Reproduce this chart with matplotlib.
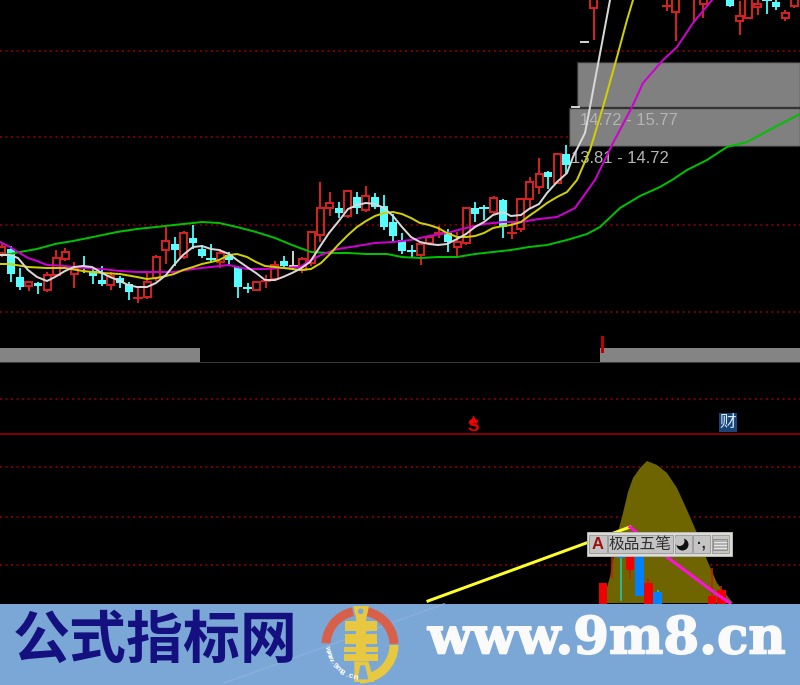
import matplotlib
matplotlib.use("Agg")
import matplotlib.pyplot as plt
import matplotlib.patheffects as pe
import numpy as np
from matplotlib.patches import Rectangle, Polygon, Wedge, Circle

# Candle indices and values (screen-scale price units)
c_idx = [-1,0,1,2,3,4,5,6,7,8,9,10,11,12,13,14,15,16,17,18,19,20,21,22,23,24,25,26,27,28,29,30,31,
         32,33,34,35,36,37,38,39,40,41,42,43,44,45,46,47,48,49,50,51,52,53,54,55,56,57,58,59,60,61,
         62,63,64,72,73,75,76,79,80,81,82,83,84,85,86]
c_top = [247,249.3,277.3,281.7,282.7,274.7,258,252,268.3,266.7,270.7,280,276,278.3,284,298,281.7,256.7,241.3,244,232.7,238.3,249.3,259,252.7,255,266.7,288,281.7,280.7,265.3,260.7,266,
         259.3,231.7,208.3,202.7,208.3,191.3,197.3,195.7,196.7,205.7,221.7,240,251.3,244,236.7,233,233.3,241.7,208.3,208,207.7,198.3,200,233.3,198.7,181.7,174,172,154.3,154,
         107,42,-2,5.5,-2,-2,-2,-2,16,-2,4,0,2,13,-2]
c_bot = [253,274,287.3,286,286,290,275.3,258.7,273.7,267.3,276,284,284.7,283.3,291.7,298.7,297,278.3,250,250,257.3,243.3,256,259.7,262.3,260,287.3,288.7,290,281.3,278.7,266,266.7,
         270,263,235,208.3,213.3,216,208.3,210,207.3,226.7,236,250.7,252.7,255,243.3,233.7,241.7,247.3,243.3,214,209,211.7,227.3,234,229.3,198.7,186.7,177,182.7,165,
         108,43,8,7,12,-1,4,6,21,18,7,1,7,18,6]
c_high = [245,247.3,269.3,281.7,282.7,273.3,250.7,249.3,263.3,257.3,268.3,267.3,273.3,276.7,282.7,288.3,272.7,256,228.3,238.3,231.7,226,246,245,250,252.7,266.7,284,281.7,276,262,257.3,251.7,
          258,231.7,182.7,192.7,202.7,190.7,192.7,187.3,194,195.7,215,234,246,244,236.7,226.7,230,233.3,208.3,202.7,206,197.3,200,223.3,198.7,178.3,159.3,172,154.3,146,
          107,42,-2,0,-2,-2,-2,-2,2,-2,-2,-2,-2,11,-2]
c_low = [256,280.7,289.3,290,293.3,291.3,276,260,287.3,271.7,282.7,285,289.3,286.7,299.3,301.7,297.7,280,263.3,265,258.3,248.3,257.3,261.7,266.7,265,296.7,292,290,287.3,280,267.3,268.3,
         272,265,240.7,215,217.3,216.7,212.7,210.7,208.3,229.3,240.7,252.7,256.7,264,244,237.3,250.7,255,244.3,220.7,219.3,212.7,236.7,238.3,231,207.3,192.7,188.3,183,171.7,
         108,43,39,10,40,20,17,6,34,18,14,13,9,20,7]
c_cyan = {0,1,3,8,9,10,12,13,18,20,21,22,24,25,26,30,36,38,40,41,42,43,44,48,51,52,54,59,61,79,83,84}
c_white = {31,62,63}

x_white = [0,10,18,28,37,47,55,65,74,83,92,102,110,120,128,137,147,156,166,174,183,193,202,211,219,229,237,247,256,265,275,283,292,300,310,321,329,338,348,357,366,375,384,393,402,411,420,429,438,447,457,466,475,484,493,503,511,521,529,539,547,557,567,573,585,590,595,602,610]
y_white = [255,255,258,270,277,281,277,271,267,266,267,273,277,281,285,287,287,283,275,265,255,247,246,249,250,254,260,267,273,280,280,277,273,269,262,245,233,222,209,205,203,204,208,216,227,237,242,244,245,244,239,234,227,222,215,212,216,215,209,204,193,182,173,157,133,107,80,43,0]
x_yellow = [0,10,28,47,65,83,102,120,137,147,156,166,174,183,193,202,211,219,229,237,247,256,265,275,292,300,311,321,329,338,348,357,366,375,384,393,402,411,420,429,438,447,457,466,475,484,493,503,511,521,529,539,547,557,567,577,590,603,617,627,633]
y_yellow = [264,264,267,268,268,271,273,274,277,279,278,276,274,270,267,264,262,260,255,254,257,262,266,267,269,270,269,263,255,245,235,227,221,216,213,212,214,218,223,225,228,233,237,237,236,233,228,226,225,222,216,209,203,197,192,180,150,107,57,20,0]
x_magenta = [0,10,18,28,37,47,65,83,102,120,137,156,174,193,211,229,237,247,265,283,300,311,321,329,338,357,375,393,411,429,447,466,484,503,521,539,557,575,595,613,632,643,663,677,693,712]
y_magenta = [242,247,252,258,261,265,266,268,269,271,272,272,272,269,267,265,267,269,269,268,267,260,255,252,249,246,243,242,240,236,233,228,224,222,222,219,217,208,180,143,107,83,60,47,23,0]
x_green = [0,10,20,37,55,73,93,117,137,156,174,193,202,219,237,256,275,292,300,311,329,348,366,387,402,420,438,457,475,493,511,529,547,567,587,600,620,640,660,672,687,707,727,747,773,800]
y_green = [255,254,252,249,244,241,237,232,229,227,225,223,222,223,227,232,238,245,248,252,253,253,254,254,257,258,257,257,254,252,250,247,245,240,234,227,208,196,187,180,170,160,147,142,128,114]

x_olive = [605,607,610,618,623,628,633,640,647,657,667,677,687,697,707,717,733]
y_olive = [603,587,577,532,513,492,478,468,461,465,473,488,510,533,560,583,603]

b_idx = [65,66,67,68,69,70,71,77,78]
b_top = [583,556,556,556,556,583,592,596,590]
b_bot = [604,556,558,570,596,604,604,604,604]
b_wick_hi = [583,548,556,548,550,578,590,568,586]
b_wick_lo = [604,578,601,579,596,604,604,604,604]
b_color = ["#f00000","#c81e00","#0080ff","#f00000","#0080ff","#f00000","#0080ff","#f00000","#f00000"]
b_wick_color = ["#f00000","#c81e00","#18c8b8","#c81e00","#0080ff","#c81e00","#18c8b8","#c81e00","#c81e00"]

x_up = [428,630]; y_up = [601,527]
x_down = [630,667,715,730]; y_down = [527,557,593,603]

grid_y = [51,137,225,312,399,467,517,565]
zone_x0 = [577,568.5]; zone_y0 = [62,108]; zone_y1 = [107,146]
zone_labels = ["14.72 - 15.77","13.81 - 14.72"]

fig = plt.figure(figsize=(8,6.85),dpi=100,facecolor="black")
ax = fig.add_axes([0,0,1,1])
ax.set_xlim(0,800); ax.set_ylim(685,0); ax.axis("off")
ax.add_patch(Rectangle((0,0),800,685,fc="black",ec="none",zorder=0))
px = 0.72
X = lambda i: 10.7+9.11*i
SANS = "Liberation Sans"; CJK = ["Noto Sans CJK SC","DejaVu Sans"]
RED = "#d42020"; CY = "#55ffff"; LW = 2*px

for y in grid_y:
    ax.plot([0,800],[y,y],color="#a00000",lw=1.5*px,ls=(0,(1.3,2.4)),zorder=1)
ax.plot([0,800],[433.5,433.5],color="#900000",lw=1.8*px,zorder=1)
ax.plot([0,800],[362,362],color="#3a3a3a",lw=px,zorder=1)

for x0,w in [(0,200),(600,200)]:
    ax.add_patch(Rectangle((x0,348),w,14,fc="#848484",ec="none",zorder=2))
ax.plot([601.5,601.5],[337,351],color="#c00000",lw=3*px,zorder=3)

for x0,y0,y1 in zip(zone_x0,zone_y0,zone_y1):
    ax.add_patch(Rectangle((x0,y0),800-x0,y1-y0,fc="#808080",ec="#333333",lw=1.3*px,zorder=2))
ax.text(580,120,zone_labels[0],color="#b4b4b4",fontsize=12,family=SANS,va="center",ha="left",zorder=3)
ax.text(571,158,zone_labels[1],color="#b8b8b8",fontsize=12,family=SANS,va="center",ha="left",zorder=3)

for i,t,b,h,l in zip(c_idx,c_top,c_bot,c_high,c_low):
    x = X(i)
    if i in c_white:
        ax.plot([x-3.5,x+3.5],[t,t],color="#d0d0d0",lw=LW,zorder=4)
        if i==31: ax.plot([x,x],[h,l],color="#d0d0d0",lw=LW,zorder=4)
        continue
    if i in c_cyan:
        ax.plot([x,x],[h,l],color="#3fe8e8",lw=LW,zorder=4)
        if b-t<2:
            ax.plot([x-4,x+4],[t,t],color=CY,lw=LW,zorder=4)
        else:
            ax.add_patch(Rectangle((x-4,t),8,b-t,fc=CY,ec="none",zorder=4))
    else:
        ax.plot([x,x],[h,t],color=RED,lw=LW,zorder=4)
        ax.plot([x,x],[b,l],color=RED,lw=LW,zorder=4)
        if b-t<2:
            ax.plot([x-4,x+4],[t,t],color=RED,lw=LW,zorder=4)
        else:
            ax.add_patch(Rectangle((x-3.5,t),7,b-t,fc="none",ec=RED,lw=LW,zorder=4))

ax.plot(x_green,y_green,color="#00c000",lw=LW,zorder=5)
ax.plot(x_magenta,y_magenta,color="#d000d0",lw=LW,zorder=5)
ax.plot(x_yellow,y_yellow,color="#d0d000",lw=LW,zorder=5)
ax.plot(x_white,y_white,color="#d8d8d8",lw=LW,zorder=5)

ax.text(473,426.5,"S",color="#f00000",fontsize=12.5,fontweight="bold",family=SANS,ha="center",va="center",zorder=6)
ax.plot([473],[418.5],marker="^",ms=5.5,color="#f00000",mec="none",zorder=6)
ax.add_patch(Rectangle((719,413),18,19,fc="#17457a",ec="none",zorder=6))
ax.text(728,422.5,"财",color="#d8e8f8",fontsize=12,family=CJK,ha="center",va="center",zorder=7)

ax.add_patch(Polygon(np.column_stack([x_olive,y_olive]),closed=True,fc="#6e6400",ec="none",zorder=2))
for i,t,b,hi,lo,c,wc in zip(b_idx,b_top,b_bot,b_wick_hi,b_wick_lo,b_color,b_wick_color):
    x = X(i)
    ax.plot([x,x],[hi,lo],color=wc,lw=1.6*px,zorder=3,solid_capstyle="butt")
    if b>t:
        ax.add_patch(Rectangle((x-4.3,t),8.6,b-t,fc=c,ec="none",zorder=4))
ax.plot(x_up,y_up,color="#ffff28",lw=3*px,zorder=5)
ax.plot(x_down,y_down,color="#ff10e0",lw=3*px,zorder=5)

ax.add_patch(Rectangle((586.5,532),145,24,fc="#dcdcd4",ec="#b4b4b4",lw=px,zorder=8))
for x0,x1 in [(589,606.5),(608,672.5),(674.5,691.5),(692.5,710),(711.5,729)]:
    ax.add_patch(Rectangle((x0,535),x1-x0,18,fc="#c4c4c4",ec="#a0a0a0",lw=px,zorder=9))
ax.text(597.5,544.5,"A",color="#a01010",fontsize=12,fontweight="bold",family=SANS,ha="center",va="center",zorder=10)
ax.text(640.5,544,"极品五笔",color="#303030",fontsize=11.3,family=CJK,ha="center",va="center",zorder=10)
ax.add_patch(Circle((682.5,544.5),6,fc="#101010",ec="none",zorder=10))
ax.add_patch(Circle((679.5,541),5,fc="#c4c4c4",ec="none",zorder=10))
ax.text(701.5,543,"·,",color="#202020",fontsize=10,fontweight="bold",family=SANS,ha="center",va="center",zorder=10)
ax.add_patch(Rectangle((713,539),14,11,fc="#b0b0b0",ec="#909090",lw=px,zorder=10))
for y in (542,545,548):
    ax.plot([714,726],[y,y],color="#e8e8e8",lw=px,zorder=11)

ax.add_patch(Rectangle((0,604),800,81,fc="#7ba7d6",ec="none",zorder=20))
ax.plot([224,444],[683,604],color="#88b0dc",lw=1.5*px,zorder=20.5)
ax.text(155,641,"公式指标网",color="#15107f",fontsize=41,fontweight="black",family=CJK,ha="center",va="center",zorder=21)
t = ax.text(606.5,640,"www.9m8.cn",color="#fafafa",fontsize=37,fontweight="bold",family="DejaVu Serif",ha="center",va="center",zorder=21)
t.set_path_effects([pe.withStroke(linewidth=1.2,foreground="#fafafa")])

cx,cy = 360,645
red,gold = "#d8604a","#e8c840"
ax.add_patch(Wedge((cx,cy),38.5,183,258,width=9,fc=red,ec="none",zorder=21))
ax.add_patch(Wedge((cx,cy),38.5,282,358,width=9,fc=red,ec="none",zorder=21))
ax.add_patch(Wedge((cx,cy),38.5,0,90,width=9,fc=gold,ec="none",zorder=21))
Z = lambda zx,zy:(315+zx/3,602+zy/3)
ax.add_patch(Polygon([Z(115,12),Z(162,12),Z(152,58),Z(125,58)],fc=gold,ec="none",zorder=21))
ax.add_patch(Circle(Z(137,28),2.8,fc="#7ba7d6",ec="none",zorder=22))
for zx0,zy0,zx1,zy1 in [(90,58,185,88),(122,88,153,97),(90,97,185,125),(122,125,153,135),(88,135,188,150),(122,150,153,155),(88,155,188,178)]:
    a=Z(zx0,zy0); b=Z(zx1,zy1)
    ax.add_patch(Rectangle(a,b[0]-a[0],b[1]-a[1],fc=gold,ec="none",zorder=21))
ax.add_patch(Polygon([Z(118,178),Z(160,178),Z(178,240),Z(118,240)],fc=gold,ec="none",zorder=21))
ax.add_patch(Polygon([Z(136,190),Z(150,190),Z(160,232),Z(128,232)],fc="#7ba7d6",ec="none",zorder=22))
logo_chars = "www.9m8.cn"
for ch,ang in zip(logo_chars,np.linspace(186,262,len(logo_chars))):
    r=np.deg2rad(ang)
    ax.text(cx+33*np.cos(r),cy-33*np.sin(r),ch,color="white",fontsize=6,fontweight="bold",family=SANS,
            rotation=ang-270,rotation_mode="anchor",ha="center",va="center",zorder=22)

fig.savefig("out.png",dpi=100,facecolor="black")
